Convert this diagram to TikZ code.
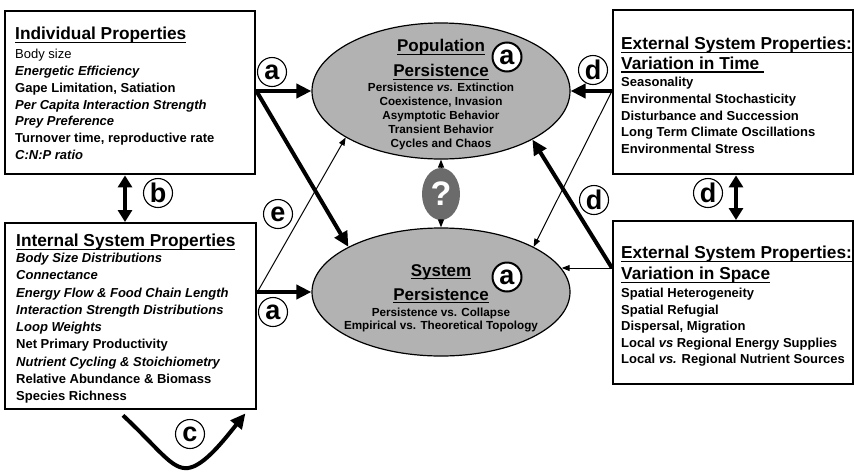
\documentclass[tikz,border=0pt]{standalone}
\usepackage{fontspec}
\setmainfont{Liberation Sans}
\usetikzlibrary{shapes.geometric,arrows.meta,positioning}
\definecolor{blobgray}{gray}{0.70}
\definecolor{qgray}{gray}{0.42}
\newcommand\uhead[1]{\setbox0\hbox{#1}\rlap{\rule[-3.4pt]{\wd0}{1.4pt}}\box0}

\begin{document}
\begin{tikzpicture}[x=1pt, y=-1pt,
  box/.style={draw, line width=2.4pt, anchor=north west, inner sep=0pt},
  head/.style={anchor=north west, inner sep=0pt, align=left, font=\fontsize{17.3}{20}\selectfont\bfseries},
  body/.style={anchor=north west, inner sep=0pt, align=left, font=\fontsize{13}{16.8}\selectfont\bfseries},
  blob/.style={draw, ellipse, fill=blobgray, line width=1.2pt, inner sep=0pt},
  bhead/.style={anchor=north, inner sep=0pt, align=center, font=\fontsize{17}{25}\selectfont\bfseries},
  bbody/.style={anchor=north, inner sep=0pt, align=center, font=\fontsize{11.7}{14}\selectfont\bfseries},
  lab/.style={draw, circle, fill=white, line width=1.1pt, inner sep=0pt, minimum size=29pt, font=\fontsize{27}{27}\selectfont\bfseries},
  inlab/.style={lab, line width=2pt},
  heavy/.style={line width=4pt, -{Triangle[length=15pt,width=14pt]}},
  light/.style={line width=1pt, -{Triangle[length=8pt,width=6pt]}},
  dbl/.style={line width=4pt, {Triangle[length=12pt,width=14pt]}-{Triangle[length=12pt,width=14pt]}}]
\useasboundingbox (0,0) rectangle (854,472);

\node[box, minimum width=250pt, minimum height=163pt] (indiv) at (4,10) {};
\node[box, minimum width=251pt, minimum height=186pt] (inner) at (4,222) {};
\node[box, minimum width=240pt, minimum height=164pt] (tvar) at (612,9) {};
\node[box, minimum width=240pt, minimum height=163pt] (svar) at (612,220) {};

\node[head] (indivHead) at (15,27) {\uhead{Individual Properties}};
\node[body] (indivBody) at (15,49) {\textmd{Body size}\\\textit{Energetic Efficiency}\\Gape Limitation, Satiation\\\textit{Per Capita Interaction Strength}\\\textit{Prey Preference}\\Turnover time, reproductive rate\\\textit{C:N:P ratio}};
\node[head] (innerHead) at (16,234) {\uhead{Internal System Properties}};
\node[body, font=\fontsize{13}{17.25}\selectfont\bfseries] (innerBody) at (16,253) {\textit{Body Size Distributions}\\\textit{Connectance}\\\textit{Energy Flow \& Food Chain Length}\\\textit{Interaction Strength Distributions}\\\textit{Loop Weights}\\Net Primary Productivity\\\textit{Nutrient Cycling \& Stoichiometry}\\Relative Abundance \& Biomass\\Species Richness};
\node[head, font=\fontsize{17.3}{19.5}\selectfont\bfseries] (tvarHead) at (621,37) {\uhead{External System Properties:}\\\uhead{Variation in Time\ }};
\node[body, font=\fontsize{13}{16.75}\selectfont\bfseries] (tvarBody) at (621,77) {Seasonality\\Environmental Stochasticity\\Disturbance and Succession\\Long Term Climate Oscillations\\Environmental Stress};
\node[head, font=\fontsize{17.3}{21}\selectfont\bfseries] (svarHead) at (621,246) {\uhead{External System Properties:}\\\uhead{Variation in Space}};
\node[body, font=\fontsize{13}{16.5}\selectfont\bfseries] (svarBody) at (621,288) {Spatial Heterogeneity\\Spatial Refugial\\Dispersal, Migration\\Local \textit{vs} Regional Energy Supplies\\Local \textit{vs.} Regional Nutrient Sources};

\node[blob, minimum width=258pt, minimum height=136pt] (pop) at (441,91) {};
\node[blob, minimum width=258pt, minimum height=128pt] (sys) at (441,292) {};
\node[ellipse, fill=qgray, minimum width=38pt, minimum height=52pt, inner sep=0pt, text=white, font=\fontsize{34}{34}\selectfont\bfseries] (q) at (441,194) {?};

\node[bhead] (popHead) at (441,39) {\uhead{Population}\\\uhead{Persistence}};
\node[bbody] (popBody) at (441,83) {Persistence \textit{vs.} Extinction\\Coexistence, Invasion\\Asymptotic Behavior\\Transient Behavior\\Cycles and Chaos};
\node[bhead, font=\fontsize{17}{24}\selectfont\bfseries] (sysHead) at (441,264) {\uhead{System}\\\uhead{Persistence}};
\node[bbody, font=\fontsize{11.7}{13}\selectfont\bfseries] (sysBody) at (441,308) {Persistence vs. Collapse\\Empirical vs. Theoretical Topology};

\coordinate (j1) at (indiv.east |- pop);
\coordinate (j2) at (inner.east |- sys);
\coordinate (j3) at (tvar.west |- pop);
\coordinate (j4) at ([shift={(0,48)}]svar.north west);
\coordinate (bx) at (125,0);
\coordinate (dx) at (736,0);

\draw[heavy] (j1) -- (pop.west);
\draw[heavy] (j1) -- (sys.154);
\draw[light] (j2) -- (pop.206);
\draw[heavy] (j2) -- (sys.west);
\draw[heavy] (j3) -- (pop.east);
\draw[light] (j3) -- (sys.26);
\draw[heavy] (j4) -- (pop.332);
\draw[light] (j4) -- (j4 -| sys.11);
\draw[light] (q) -- (pop);
\draw[light] (q) -- (sys);
\draw[dbl] (indiv.south -| bx) -- (inner.north -| bx);
\draw[dbl] (tvar.south -| dx) -- (svar.north -| dx);
\draw[heavy] ([shift={(119,5)}]inner.south west) .. controls (160,450) and (172,470) .. (188,468) .. controls (204,466) and (224,440) .. ([shift={(-12,3)}]inner.south east);

\node[lab] (aTop) at (272,72) {a};
\node[lab] (aBot) at (273,312) {a};
\node[lab] (b) at (158,193) {b};
\node[lab] (c) at (190,434) {c};
\node[lab] (e) at (278,214) {e};
\node[lab] (dTop) at (593,70) {d};
\node[lab] (dMid) at (594,200) {d};
\node[lab] (dBox) at (708,193) {d};
\node[inlab] (aPop) at (507,57) {a};
\node[inlab] (aSys) at (507,277) {a};
\end{tikzpicture}
\end{document}
